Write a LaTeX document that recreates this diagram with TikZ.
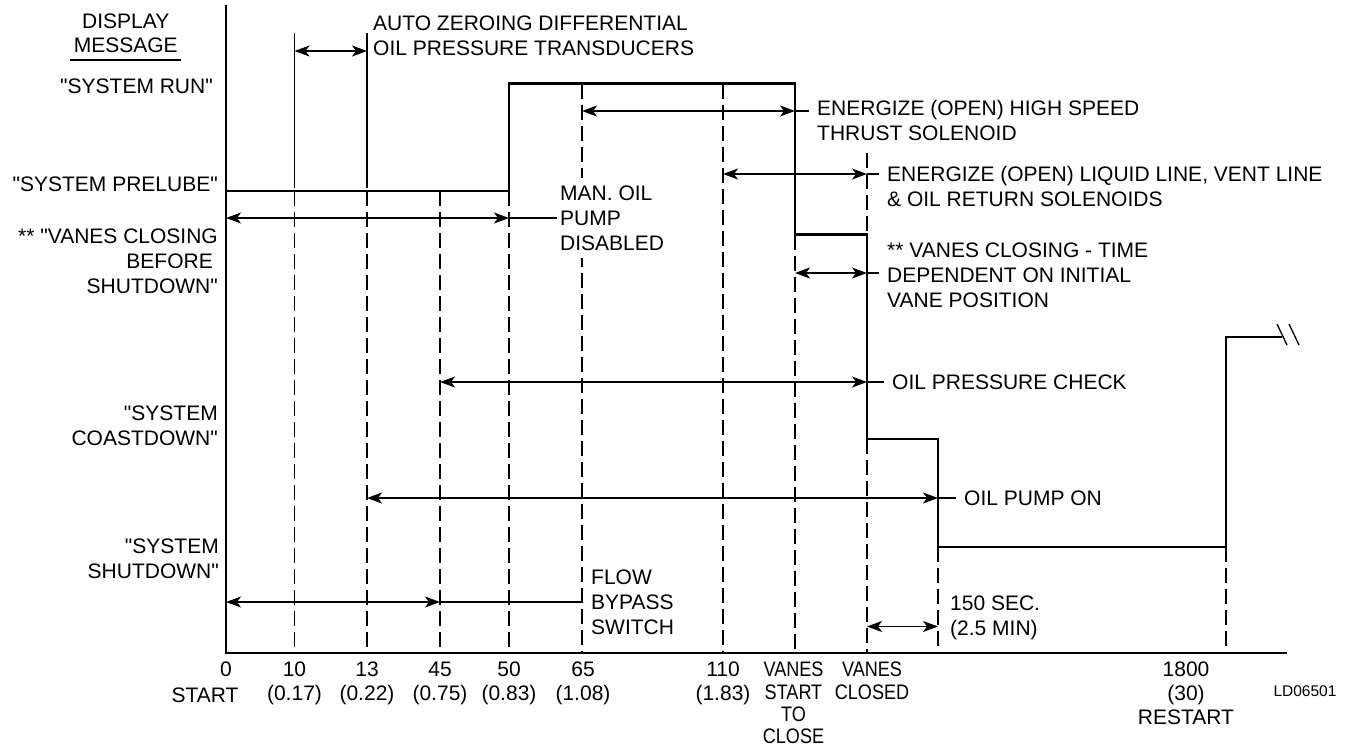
\documentclass[tikz,border=0pt]{standalone}
\usepackage{fontspec}
\setmainfont{Liberation Sans}[Ligatures=TeXOff]
\newfontfamily\narrowfont{Liberation Sans}[Ligatures=TeXOff, FakeStretch=0.86]
\usetikzlibrary{arrows.meta, positioning, calc}

\begin{document}
\begin{tikzpicture}[
        x=1pt, y=-1pt,
        font=\fontsize{21}{25}\selectfont,
        >={Stealth[length=15pt, width=11pt, inset=4pt]},
        axis/.style={line width=2.8pt, line join=miter},
        trace/.style={line width=2.3pt, line join=miter},
        guide/.style={line width=1.3pt, dash pattern=on 15pt off 6pt},
        tick/.style={line width=1.3pt},
        span/.style={<->, line width=1.3pt},
        note/.style={align=left, anchor=west, inner xsep=8pt, inner ysep=0pt},
        msg/.style={align=right, anchor=east, inner sep=0pt},
        stamp/.style={align=center, anchor=north, inner sep=0pt, font=\fontsize{21}{24}\selectfont}
    ]
        \useasboundingbox (0,0) rectangle (1347,748);

        % time marks on the axis and signal levels
        \foreach \n/\x in {t0/226, t10/294.5, t13/367, t45/440, t50/509, t65/582, t110/723, tvs/795, tvc/867, tpo/938, trs/1226}
            \coordinate (\n) at (\x,653);
        \coordinate (run) at (0,83.5);
        \coordinate (pre) at (0,191);
        \coordinate (vcl) at (0,234.5);
        \coordinate (rst) at (0,337);
        \coordinate (cst) at (0,439);
        \coordinate (sht) at (0,547);

        % axes
        \draw[axis] (t0 |- 0,5) -- (t0) -- (1287,653);

        % display message trace
        \draw[trace] (t0 |- pre) -- (t50 |- pre) -- (t50 |- run) -- (tvs |- run) -- (tvs |- vcl)
            -- (tvc |- vcl) -- (tvc |- cst) -- (tpo |- cst) -- (tpo |- sht) -- (trs |- sht)
            -- (trs |- rst) -- (1282,337) coordinate (brk);
        \draw[tick] (1277,324) -- (1287,345) (1289,324) -- (1299,345);

        % guide lines
        \draw[tick] (t10 |- 0,33) -- (t10 |- 0,188) (t13 |- 0,33) -- (t13 |- 0,188);
        \foreach \n/\y in {t10/pre, t13/pre, t45/pre, t50/pre, t65/run, t110/run, tvs/vcl, tvc/cst, tpo/sht, trs/sht}
            \draw[guide] (\n |- \y) -- (\n);
        \draw[guide] (tvc |- 0,153) -- (tvc |- vcl);

        % Display messages
        \node[inner sep=0pt, align=center, font=\fontsize{21}{24}\selectfont] (dsp) at (125.7,33.7) {DISPLAY\\MESSAGE};
        \draw[tick] (70,60) -- (181,60);
        \node[msg] (mrun) at (213,86) {"SYSTEM RUN"};
        \node[msg] (mpre) at (218,184) {"SYSTEM PRELUBE"};
        \node[msg] (mvcl) at (218,261.5) {** "VANES CLOSING\\BEFORE\kern5pt\\SHUTDOWN"};
        \node[msg] (mcst) at (218,425.5) {"SYSTEM\\COASTDOWN"};
        \node[msg] (msht) at (219,559) {"SYSTEM\\SHUTDOWN"};

        % Auto zeroing
        \node[note, inner xsep=0pt] (azr) at (373,36) {AUTO ZEROING DIFFERENTIAL\\OIL PRESSURE TRANSDUCERS};
        \draw[span] (t10 |- 0,51) -- (t13 |- 0,51);

        % High speed thrust
        \node[note] (hst) at (809,120.5) {ENERGIZE (OPEN) HIGH SPEED\\THRUST SOLENOID};
        \draw[span] (t65 |- 0,111) -- (tvs |- 0,111);
        \draw[tick] (tvs |- 0,111) -- (hst.west |- 0,111);

        % Liquid line
        \node[note] (liq) at (879,186.3) {ENERGIZE (OPEN) LIQUID LINE, VENT LINE\\\& OIL RETURN SOLENOIDS};
        \draw[span] (t110 |- 0,174) -- (tvc |- 0,174);
        \draw[tick] (tvc |- 0,174) -- (liq.west |- 0,174);

        % Manual oil pump
        \node[note, inner xsep=3pt, inner ysep=8pt, fill=white] (mop) at (557,218) {MAN. OIL\\PUMP\\DISABLED};
        \draw[span] (t0 |- 0,218) -- (t50 |- 0,218);
        \draw[tick] (t50 |- 0,218) -- (mop.west |- 0,218);

        % Vanes closing
        \node[note] (vct) at (879,275) {** VANES CLOSING - TIME\\DEPENDENT ON INITIAL\\VANE POSITION};
        \draw[span] (tvs |- 0,273) -- (tvc |- 0,273);
        \draw[tick] (tvc |- 0,273) -- (vct.west |- 0,273);

        % Oil pressure check
        \node[note] (opc) at (884,382) {OIL PRESSURE CHECK};
        \draw[span] (t45 |- 0,382) -- (tvc |- 0,382);
        \draw[tick] (tvc |- 0,382) -- (opc.west |- 0,382);

        % Oil pump on
        \node[note] (pon) at (956,498) {OIL PUMP ON};
        \draw[span] (t13 |- 0,498) -- (tpo |- 0,498);
        \draw[tick] (tpo |- 0,498) -- (pon.west |- 0,498);

        % Flow bypass
        \node[note, inner xsep=9pt] (fbs) at (t65 |- 0,602) {FLOW\\BYPASS\\SWITCH};
        \draw[span] (t0 |- 0,602) -- (t45 |- 0,602);
        \draw[tick] (t45 |- 0,602) -- (fbs.west |- 0,602);

        % Coastdown time
        \node[note] (sec) at (942,617.5) {150 SEC.\\(2.5 MIN)};
        \draw[span] (tvc |- 0,626.5) -- (tpo |- 0,626.5);

        % time axis labels
        \node[stamp] (x0) at (t0 |- 0,661.5) {0};
        \node[stamp] (xst) at (205,687.5) {START};
        \node[stamp] (x10) at (t10 |- 0,661.5) {10\\(0.17)};
        \node[stamp] (x13) at (t13 |- 0,661.5) {13\\(0.22)};
        \node[stamp] (x45) at (t45 |- 0,661.5) {45\\(0.75)};
        \node[stamp] (x50) at (t50 |- 0,661.5) {50\\(0.83)};
        \node[stamp] (x65) at (583,661.5) {65\\(1.08)};
        \node[stamp] (x110) at (t110 |- 0,661.5) {110\\(1.83)};
        \node[stamp, font=\narrowfont\fontsize{21}{22.3}\selectfont] (xvs) at (793.5,662) {VANES\\START\\TO\\CLOSE};
        \node[stamp, font=\narrowfont\fontsize{21}{22.3}\selectfont] (xvc) at (872,662) {VANES\\CLOSED};
        \node[stamp] (xrs) at (1186,661.5) {1800\\(30)\\RESTART};
        \node[inner sep=0pt, font=\fontsize{15.5}{18}\selectfont] (ld) at (1305,691) {LD06501};
    \end{tikzpicture}
\end{document}
